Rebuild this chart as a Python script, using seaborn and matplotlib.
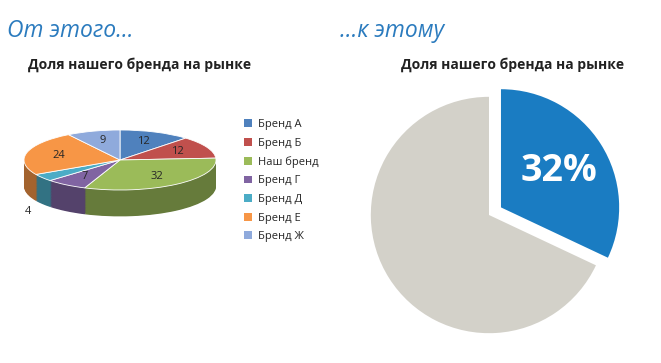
import matplotlib
matplotlib.use("Agg")
import matplotlib.pyplot as plt
import matplotlib.colors as mcolors
import seaborn as sns
import numpy as np

# ---- data ----
brands = ["Бренд А", "Бренд Б", "Наш бренд", "Бренд Г", "Бренд Д", "Бренд Е", "Бренд Ж"]
shares = [12, 12, 32, 7, 4, 24, 9]
brand_colors = ["#4F81BD", "#C0504D", "#9BBB59", "#8064A2", "#4BACC6", "#F79646", "#8FAADC"]

focus_labels = ["Наш бренд", "Остальные"]
focus_values = [32, 68]
focus_colors = ["#1A7CC2", "#D3D1C9"]

title_left = "От этого…"
title_right = "…к этому"
chart_title = "Доля нашего бренда на рынке"

sns.set_theme(style="white")
plt.rcParams['font.family'] = ['Open Sans', 'DejaVu Sans']

W, H = 661, 363
fig = plt.figure(figsize=(W / 100, H / 100), dpi=100)
fig.patch.set_facecolor("white")


def rect(x0, y0, x1, y1):
    return [x0 / W, 1 - y1 / H, (x1 - x0) / W, (y1 - y0) / H]


# ---- left: pseudo 3D pie ----
ax = fig.add_axes(rect(0, 100, 240, 240))
depth = 0.88
side_colors = [tuple(np.array(mcolors.to_rgb(c)) * 0.66) for c in brand_colors]
for d in np.linspace(depth, 0.02, 36):
    ax.pie(shares, colors=side_colors, startangle=90, counterclock=False,
           center=(0, -d), radius=1, wedgeprops=dict(linewidth=0))
wedges, _ = ax.pie(shares, colors=brand_colors, startangle=90, counterclock=False,
                   center=(0, 0), radius=1,
                   wedgeprops=dict(linewidth=0.6, edgecolor="white"))
ax.set_aspect("auto")
ax.set_xlim(-1.25, 1.25)
ax.set_ylim(-2.667, 2.0)
ax.axis("off")

for w, v in zip(wedges, shares):
    ang = np.deg2rad((w.theta1 + w.theta2) / 2)
    if v < 5:
        x, y = 1.18 * np.cos(ang), 1.18 * np.sin(ang) - depth - 0.15
    else:
        x, y = 0.66 * np.cos(ang), 0.66 * np.sin(ang)
    ax.text(x, y, str(v), ha="center", va="center", fontsize=8, color="#262626")

leg_handles = [plt.Rectangle((0, 0), 1, 1, facecolor=c, edgecolor="none") for c in brand_colors]
fig.legend(leg_handles, brands, loc="upper left", bbox_to_anchor=(244 / W, 1 - 119 / H),
           frameon=False, fontsize=8, handlelength=0.7, handleheight=0.7,
           handletextpad=0.6, labelspacing=0.68, borderaxespad=0, borderpad=0,
           labelcolor="#262626")

# ---- right: focused pie ----
ax2 = fig.add_axes(rect(359, 85, 619, 345))
ax2.pie(focus_values, colors=focus_colors, startangle=90, counterclock=False,
        explode=[0.12, 0], radius=1,
        autopct=lambda p: f"{p:.0f}%" if abs(p - focus_values[0]) < 0.5 else "",
        pctdistance=0.58,
        textprops=dict(color="white", fontsize=27, fontweight="bold"),
        wedgeprops=dict(linewidth=0))
ax2.set_aspect("equal")
ax2.set_xlim(-1.1, 1.1)
ax2.set_ylim(-1.1, 1.1)
ax2.axis("off")

# ---- titles ----
fig.text(7 / W, 1 - 31 / H, title_left, color="#2B7BBE", fontsize=16.5, style="italic",
         va="center", ha="left")
fig.text(340 / W, 1 - 31 / H, title_right, color="#2B7BBE", fontsize=16.5, style="italic",
         va="center", ha="left")
fig.text(140 / W, 1 - 65 / H, chart_title, color="#222222", fontsize=10, fontweight="bold",
         va="center", ha="center")
fig.text(513 / W, 1 - 65 / H, chart_title, color="#222222", fontsize=10, fontweight="bold",
         va="center", ha="center")

fig.savefig("out.png", dpi=100)
